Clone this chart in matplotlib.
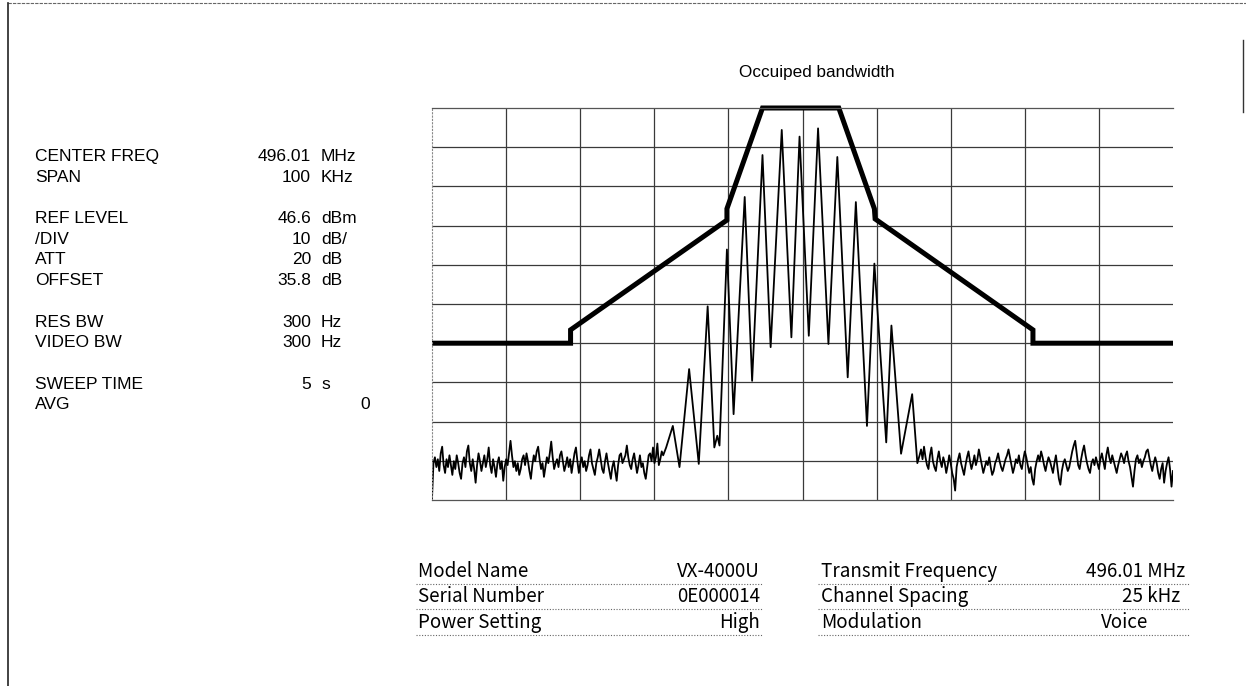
import numpy as np
import matplotlib
matplotlib.use("Agg")
import matplotlib.pyplot as plt
from matplotlib.lines import Line2D

# Occupied bandwidth plot (spectrum analyzer printout)

# analyzer settings shown on the left
setting_names = ["CENTER FREQ", "SPAN", "REF LEVEL", "/DIV", "ATT", "OFFSET",
                 "RES BW", "VIDEO BW", "SWEEP TIME", "AVG"]
setting_nums = ["496.01", "100", "46.6", "10", "20", "35.8", "300", "300", "5", ""]
setting_units = ["MHz", "KHz", "dBm", "dB/", "dB", "dB", "Hz", "Hz", "s", ""]
avg_value = "0"

# info table under the plot
left_names = ["Model Name", "Serial Number", "Power Setting"]
left_values = ["VX-4000U", "0E000014", "High"]
right_names = ["Transmit Frequency", "Channel Spacing", "Modulation"]
right_values = ["496.01 MHz", "25 kHz", "Voice"]

ref_level = 46.6   # dBm, top of screen
db_div = 10
span = 100         # kHz

# mask (thick line), offset kHz / dBm
mask_f = [-50, -31.3, -31.3, -10.2, -10.2, -5.4, 4.9, 9.7, 9.8, 31.1, 31.1, 50]
mask_db = [-13.4, -13.4, -10.0, 18.0, 20.9, 46.6, 46.6, 20.9, 18.3, -10.0, -13.4, -13.4]

# noise floor left of the signal, -50 .. -18.8 kHz
noise_left = [
    -53.0, -44.0, -42.5, -45.0, -43.0, -46.0, -41.5, -39.8, -44.5, -46.5,
    -43.0, -45.0, -42.0, -44.5, -47.0, -43.5, -45.5, -42.0, -44.0, -46.5,
    -48.0, -44.0, -42.5, -45.0, -41.0, -39.5, -44.0, -46.0, -43.0, -45.5,
    -49.0, -44.5, -41.5, -43.5, -46.0, -44.0, -42.0, -45.0, -43.0, -40.0,
    -44.5, -46.5, -43.0, -45.0, -47.5, -44.0, -42.5, -45.5, -43.5, -48.5,
    -45.0, -43.0, -44.5, -41.5, -38.3, -42.0, -45.0, -43.5, -46.0, -44.0,
    -47.0, -45.5, -43.0, -42.0, -44.5, -41.5, -43.5, -46.0, -48.0, -44.5,
    -42.0, -43.5, -41.0, -39.8, -43.0, -45.5, -44.0, -47.5, -45.0, -42.5,
    -44.0, -41.5, -38.5, -42.5, -45.5, -44.0, -43.0, -45.0, -42.0, -41.0,
    -43.5, -46.0, -44.5, -42.5, -45.0, -43.0, -46.5, -44.0, -41.5, -40.0,
    -43.5, -46.5, -44.0, -42.5, -45.0, -43.5, -46.0, -44.5, -42.0, -40.5,
    -44.0, -45.5, -47.0, -44.0, -42.5, -40.5, -43.0, -45.5, -46.5, -43.5,
    -41.5, -44.0, -46.0, -48.0, -45.0, -43.5, -46.0, -48.5, -44.5, -42.0,
    -41.5, -44.0, -43.0, -42.0, -39.5, -42.5, -44.5, -45.5, -43.0, -41.5,
    -44.0, -46.5, -44.5, -42.0, -45.0, -44.0, -46.5, -48.0, -45.0, -42.0,
    -41.5, -43.5, -40.0, -44.0, -42.5, -39.0, -44.5, -43.0, -41.0, -42.0,
]

# sidebands, peaks and troughs
sig_f = [-18.4, -17.5, -16.6, -15.3, -14.0, -12.8, -11.9, -11.5, -11.2, -10.2,
         -9.3, -7.8, -6.8, -5.4, -4.3, -2.8, -1.5, -0.4, 0.85, 2.1,
         3.5, 4.7, 6.1, 7.2, 8.7, 9.7, 11.3, 12.0, 13.3, 14.8, 15.5]
sig_db = [-40.0, -34.5, -45.0, -20.0, -44.2, -4.0, -40.0, -37.0, -39.5, 10.5,
          -31.5, 23.9, -23.0, 34.6, -14.4, 41.0, -11.9, 39.3, -11.5, 41.4,
          -13.6, 34.1, -22.1, 22.6, -34.5, 6.9, -38.7, -8.9, -41.6, -26.4, -44.0]

# noise floor right of the signal, 15.8 .. 50 kHz
noise_right = [
    -42.0, -40.5, -43.0, -39.8, -42.5, -44.5, -45.5, -42.0, -40.0, -43.5,
    -45.0, -46.0, -43.0, -41.0, -43.5, -45.0, -42.5, -44.0, -46.5, -44.5,
    -42.0, -44.0, -46.5, -48.0, -51.0, -45.0, -43.0, -41.5, -44.0, -45.5,
    -47.0, -44.5, -42.5, -41.0, -43.5, -45.5, -44.0, -42.0, -44.5, -43.0,
    -40.5, -42.5, -44.5, -46.5, -45.0, -43.5, -44.5, -42.5, -45.0, -47.0,
    -46.0, -44.0, -43.0, -41.5, -43.5, -45.0, -46.0, -44.5, -43.0, -42.0,
    -40.5, -42.5, -44.5, -46.5, -45.0, -43.0, -44.0, -42.0, -44.5, -45.5,
    -43.0, -41.0, -42.5, -44.5, -46.5, -45.0, -48.0, -49.5, -45.5, -43.5,
    -42.0, -43.5, -41.0, -42.5, -44.5, -46.0, -44.0, -42.5, -43.5, -45.0,
    -46.5, -44.0, -42.0, -45.0, -48.0, -49.5, -46.0, -44.0, -43.0, -44.5,
    -46.0, -45.0, -43.0, -41.0, -39.5, -38.3, -41.5, -44.5, -45.5, -43.0,
    -41.0, -39.5, -42.0, -44.0, -45.5, -46.5, -44.0, -43.0, -44.5, -42.5,
    -44.0, -45.5, -43.0, -41.5, -43.5, -45.5, -42.0, -40.0, -42.5, -44.0,
    -42.0, -43.5, -45.0, -46.5, -44.5, -43.0, -41.5, -42.5, -44.0, -42.0,
    -41.0, -43.5, -45.0, -47.5, -50.0, -46.0, -43.0, -42.0, -44.0, -43.0,
    -45.0, -43.5, -42.5, -41.0, -40.5, -42.5, -44.5, -46.0, -44.0, -42.5,
    -44.0, -46.5, -48.0, -45.5, -44.0, -49.0, -46.0, -44.0, -42.5, -45.5,
    -50.0, -46.0,
]

W, H = 1246, 686
fig = plt.figure(figsize=(W / 100, H / 100), dpi=100)

def fx(x):
    return x / W

def fy(y):
    return 1 - y / H

# page frame of the scan
fig.add_artist(Line2D([fx(8), fx(1246)], [fy(3), fy(3)], transform=fig.transFigure,
                      color="#666666", lw=0.8, ls=(0, (3, 1))))
fig.add_artist(Line2D([fx(8), fx(8)], [fy(3), fy(686)], transform=fig.transFigure,
                      color="#222222", lw=1.2))
fig.add_artist(Line2D([fx(1243), fx(1243)], [fy(40), fy(112)], transform=fig.transFigure,
                      color="#333333", lw=1.0))

ax = fig.add_axes([fx(432), fy(500), fx(1173) - fx(432), fy(108) - fy(500)])
ax.set_xlim(-span / 2, span / 2)
ax.set_ylim(ref_level - 10 * db_div, ref_level)
ax.set_xticks(np.arange(-40, 41, 10))
ax.set_yticks(ref_level - db_div * np.arange(1, 10))
ax.tick_params(length=0, labelbottom=False, labelleft=False)
ax.grid(True, color="#3a3a3a", lw=0.9)
ax.set_axisbelow(True)
for s in ["top", "bottom"]:
    ax.spines[s].set_color("#555555")
    ax.spines[s].set_linewidth(0.9)
    ax.spines[s].set_linestyle((0, (3, 1)))
ax.spines["left"].set_color("#888888")
ax.spines["left"].set_linestyle((0, (1, 2)))
ax.spines["right"].set_visible(False)

f_left = np.linspace(-50.0, -18.8, len(noise_left))
f_right = np.linspace(15.8, 50.0, len(noise_right))
trace_f = np.concatenate([f_left, sig_f, f_right])
trace_db = np.concatenate([noise_left, sig_db, noise_right])
ax.plot(trace_f, trace_db, color="black", lw=1.3)

ax.plot(mask_f, mask_db, color="black", lw=3.6, clip_on=False,
        solid_joinstyle="miter", solid_capstyle="butt")

fig.text(fx(817), fy(72), "Occuiped bandwidth", ha="center", va="center",
         fontsize=12.3, family="Liberation Sans")

# settings block (baselines)
row_idx = [0, 1, 3, 4, 5, 6, 8, 9, 11, 12]
fs = 12.5
for i, name in enumerate(setting_names):
    y = fy(161 + 20.7 * row_idx[i])
    fig.text(fx(35), y, name, ha="left", va="baseline", fontsize=fs, family="Liberation Sans")
    if setting_nums[i]:
        fig.text(fx(311), y, setting_nums[i], ha="right", va="baseline", fontsize=fs,
                 family="Liberation Sans")
        fig.text(fx(321), y, setting_units[i], ha="left", va="baseline", fontsize=fs,
                 family="Liberation Sans")
fig.text(fx(365), fy(161 + 20.7 * 12), avg_value, ha="center", va="baseline", fontsize=fs,
         family="Liberation Sans")

# info table
table_y = [577, 602, 628]
right_val_x = [1185, 1180, 1148]
tfs = 13.5
for i in range(3):
    y = fy(table_y[i])
    fig.text(fx(418), y, left_names[i], ha="left", va="baseline", fontsize=tfs,
             family="Noto Sans CJK JP")
    fig.text(fx(760), y, left_values[i], ha="right", va="baseline", fontsize=tfs,
             family="Noto Sans CJK JP")
    fig.text(fx(821), y, right_names[i], ha="left", va="baseline", fontsize=tfs,
             family="Noto Sans CJK JP")
    fig.text(fx(right_val_x[i]), y, right_values[i], ha="right", va="baseline", fontsize=tfs,
             family="Noto Sans CJK JP")
    yl = fy(table_y[i] + 7)
    fig.add_artist(Line2D([fx(416), fx(762)], [yl, yl], transform=fig.transFigure,
                          color="#666666", lw=0.8, ls=(0, (1, 1.5))))
    fig.add_artist(Line2D([fx(818), fx(1190)], [yl, yl], transform=fig.transFigure,
                          color="#666666", lw=0.8, ls=(0, (1, 1.5))))

fig.savefig("out.png", dpi=100)
